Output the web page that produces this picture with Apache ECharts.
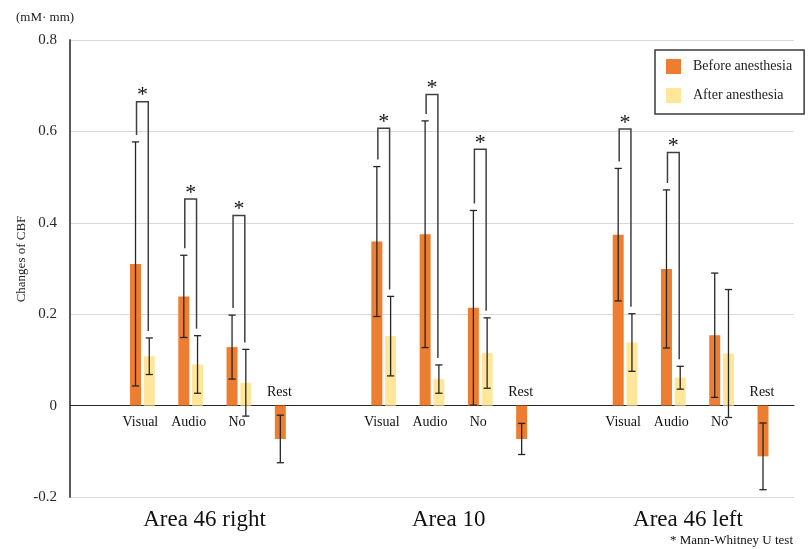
<!DOCTYPE html>
<html><head><meta charset="utf-8">
<script src="https://cdn.jsdelivr.net/npm/echarts@6/dist/echarts.min.js"></script>
<style>html,body{margin:0;padding:0;background:#fff}#c{width:808px;height:549px}</style>
</head><body><div id="c"></div>
<script>
// ---- data ----
const categories = ['', 'Visual', 'Audio', 'No', 'Rest', '', 'Visual', 'Audio', 'No', 'Rest', '', 'Visual', 'Audio', 'No', 'Rest'];
const beforeMean = [null, 0.310, 0.239, 0.128, -0.073, null, 0.359, 0.375, 0.214, -0.073, null, 0.374, 0.299, 0.154, -0.111];
const beforeSD   = [null, 0.267, 0.090, 0.070, 0.052, null, 0.164, 0.248, 0.213, 0.034, null, 0.145, 0.173, 0.136, 0.073];
const afterMean  = [null, 0.108, 0.090, 0.050, null, null, 0.152, 0.058, 0.115, null, null, 0.138, 0.061, 0.114, null];
const afterSD    = [null, 0.040, 0.063, 0.073, null, null, 0.087, 0.031, 0.077, null, null, 0.063, 0.025, 0.140, null];
const sigCategory = [1, 2, 3, 6, 7, 8, 11, 12];
const sigHeight   = [0.665, 0.452, 0.416, 0.607, 0.681, 0.561, 0.605, 0.554];
const groupLabels = ['Area 46 right', 'Area 10', 'Area 46 left'];
const seriesNames = ['Before anesthesia', 'After anesthesia'];
const yMin = -0.2, yMax = 0.8, yInterval = 0.2;

// ---- style ----
const FONT = "'Liberation Serif','Times New Roman',serif";
const BAR_W = 11, BAR_GAP = 0.25;
const HALF = BAR_W * (1 + BAR_GAP) / 2;
const ORANGE = '#ED7D31', YELLOW = '#FFE699';

function errData(means, sds) {
  const out = [];
  means.forEach((m, i) => { if (m != null) out.push([i, m - sds[i], m + sds[i]]); });
  return out;
}
function errRender(sign) {
  return function (params, api) {
    const i = api.value(0);
    const lo = api.coord([i, api.value(1)]);
    const hi = api.coord([i, api.value(2)]);
    const x = lo[0] + sign * HALF, cap = 3.6;
    const st = { stroke: '#262626', lineWidth: 1.3 };
    return { type: 'group', children: [
      { type: 'line', shape: { x1: x, y1: lo[1], x2: x, y2: hi[1] }, style: st },
      { type: 'line', shape: { x1: x - cap, y1: lo[1], x2: x + cap, y2: lo[1] }, style: st },
      { type: 'line', shape: { x1: x - cap, y1: hi[1], x2: x + cap, y2: hi[1] }, style: st }
    ]};
  };
}
const bracketData = sigCategory.map((c, k) => [c, sigHeight[k], beforeMean[c] + beforeSD[c], afterMean[c] + afterSD[c]]);
function bracketRender(params, api) {
  const i = api.value(0);
  const top = api.coord([i, api.value(1)]);
  const bh = api.coord([i, api.value(2)]);
  const ah = api.coord([i, api.value(3)]);
  const xl = top[0] - HALF + 1, xr = top[0] + HALF - 1;
  return { type: 'group', children: [
    { type: 'polyline', shape: { points: [[xl, bh[1] - 7], [xl, top[1]], [xr, top[1]], [xr, ah[1] - 7]] },
      style: { stroke: '#404040', lineWidth: 1.5, fill: null } },
    { type: 'text', x: top[0], y: top[1] + 5,
      style: { text: '*', font: '22px ' + FONT, fill: '#111', textAlign: 'center', align: 'center', textVerticalAlign: 'bottom', verticalAlign: 'bottom' } }
  ]};
}
const labelData = [];
categories.forEach((c, i) => { if (c !== '') labelData.push([i, 0]); });
function labelRender(params, api) {
  const i = api.value(0);
  const name = categories[i];
  const p = api.coord([i, api.value(1)]);
  const isRest = name === 'Rest';
  return { type: 'text', x: isRest ? p[0] - HALF - 1 : p[0] - 2, y: isRest ? p[1] - 13 : p[1] + 17,
    style: { text: name, font: '14px ' + FONT, fill: '#111', textAlign: 'center', align: 'center', textVerticalAlign: 'middle', verticalAlign: 'middle' } };
}

const chart = echarts.init(document.getElementById('c'), null, { renderer: 'canvas' });
chart.setOption({
  animation: false,
  backgroundColor: '#fff',
  grid: { left: 70, right: 14, top: 40, bottom: 52, containLabel: false },
  legend: {
    orient: 'vertical', left: 655, top: 50, padding: [9, 12, 11, 11],
    itemWidth: 15, itemHeight: 15, itemGap: 14, icon: 'rect',
    borderColor: '#3a3a3a', borderWidth: 1.5, backgroundColor: '#fff',
    textStyle: { fontFamily: FONT, fontSize: 14, color: '#222', padding: [0, 0, 0, 7] },
    data: seriesNames
  },
  xAxis: {
    type: 'category', data: categories,
    axisLine: { onZero: true, lineStyle: { color: '#262626', width: 1 } },
    axisTick: { show: false },
    axisLabel: { show: false }
  },
  yAxis: {
    type: 'value', min: yMin, max: yMax, interval: yInterval,
    axisLine: { show: true, onZero: false, lineStyle: { color: '#595959', width: 2 } },
    axisTick: { show: false },
    axisLabel: { margin: 13, fontFamily: FONT, fontSize: 15, color: '#262626' },
    splitLine: { lineStyle: { color: '#d9d9d9', width: 1 } }
  },
  graphic: [
    { type: 'text', x: 16, y: 18, style: { text: '(mM· mm)', font: '13px ' + FONT, fill: '#222', textVerticalAlign: 'middle', verticalAlign: 'middle' } },
    { type: 'text', x: 22, y: 259, rotation: Math.PI / 2, style: { text: 'Changes of CBF', font: '13px ' + FONT, fill: '#222', textAlign: 'center', align: 'center', textVerticalAlign: 'middle', verticalAlign: 'middle' } },
    { type: 'text', x: 204.5, y: 520, style: { text: groupLabels[0], font: '23px ' + FONT, fill: '#111', textAlign: 'center', align: 'center', textVerticalAlign: 'middle', verticalAlign: 'middle' } },
    { type: 'text', x: 448.7, y: 520, style: { text: groupLabels[1], font: '23px ' + FONT, fill: '#111', textAlign: 'center', align: 'center', textVerticalAlign: 'middle', verticalAlign: 'middle' } },
    { type: 'text', x: 688, y: 520, style: { text: groupLabels[2], font: '23px ' + FONT, fill: '#111', textAlign: 'center', align: 'center', textVerticalAlign: 'middle', verticalAlign: 'middle' } },
    { type: 'text', x: 793, y: 541, style: { text: '* Mann-Whitney U test', font: '13px ' + FONT, fill: '#111', textAlign: 'right', align: 'right', textVerticalAlign: 'middle', verticalAlign: 'middle' } }
  ],
  series: [
    { name: seriesNames[0], type: 'bar', data: beforeMean, barWidth: BAR_W, barGap: (BAR_GAP * 100) + '%', itemStyle: { color: ORANGE }, z: 2 },
    { name: seriesNames[1], type: 'bar', data: afterMean, barWidth: BAR_W, itemStyle: { color: YELLOW }, z: 2 },
    { type: 'custom', name: 'errBefore', data: errData(beforeMean, beforeSD), renderItem: errRender(-1), z: 5, silent: true },
    { type: 'custom', name: 'errAfter', data: errData(afterMean, afterSD), renderItem: errRender(1), z: 5, silent: true },
    { type: 'custom', name: 'sig', data: bracketData, renderItem: bracketRender, z: 6, silent: true },
    { type: 'custom', name: 'labels', data: labelData, renderItem: labelRender, z: 6, silent: true }
  ]
});
</script></body></html>
